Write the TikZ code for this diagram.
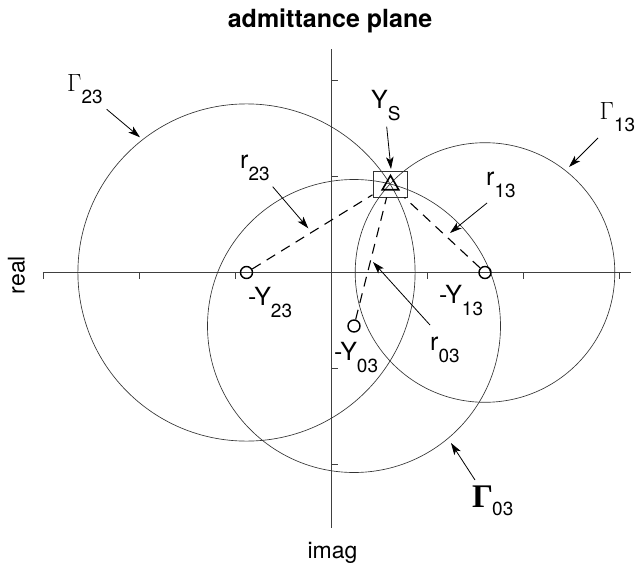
\documentclass[tikz,border=0pt]{standalone}
\usepackage{fontspec}
\setmainfont{TeX Gyre Heros}
\newfontfamily\timesfont{Liberation Serif}
\usetikzlibrary{arrows.meta,shapes.geometric}
\newcommand\mysub[1]{\raisebox{-12pt}{\fontsize{19}{19}\selectfont #1}}
\newcommand\mysubb[1]{\raisebox{-8pt}{\fontsize{19}{19}\selectfont #1}}
\begin{document}
\begin{tikzpicture}[x=1pt,y=-1pt,
  axis/.style={line width=1.1pt, black!75},
  tickmark/.style={line width=1pt, black!75},
  circ/.style={line width=0.65pt, black!80},
  marker/.style={circle, draw, line width=1.4pt, minimum size=12pt, inner sep=0pt},
  dashline/.style={dash pattern=on 10pt off 7pt, line width=1.1pt},
  pointer/.style={line width=0.8pt, -{Stealth[length=12pt,width=7.5pt,inset=3pt]}},
  lab/.style={anchor=base west, inner sep=0pt, font=\fontsize{25}{30}\selectfont},
]
\useasboundingbox (0,0) rectangle (641,565);

% axes
\coordinate (xl) at (42.5,272.5);
\coordinate (xr) at (631,272.5);
\coordinate (yt) at (331.5,49);
\coordinate (yb) at (331.5,528);
\draw[axis] (xl) -- (xr);
\draw[axis] (yt) -- (yb);
\foreach \x in {43,139.5,235.5,427.5,523.5,619.5} \draw[tickmark] (\x,272.5) -- ++(0,6);
\foreach \y in {80,176.5,368.5,464.5} \draw[tickmark] (331.5,\y) -- ++(6,0);

% circles
\draw[circ] (246.5,272.5) circle[radius=168.6pt];
\draw[circ] (485,272.5) circle[radius=129.8pt];
\draw[circ] (354,326) circle[radius=146.5pt];

% markers
\node[marker] (mY23) at (246.5,272.5) {};
\node[marker] (mY13) at (485,272.5) {};
\node[marker] (mY03) at (354,326) {};
\node[draw, black!80, line width=1pt, minimum width=34pt, minimum height=26pt, inner sep=0pt] (YS) at (390,184) {};
\node[regular polygon, regular polygon sides=3, draw, line width=1.6pt, minimum size=19pt, inner sep=0pt] (tri) at (390.5,185) {};

% radii
\draw[dashline] (mY23) -- (YS);
\draw[dashline] (mY13) -- (YS);
\draw[dashline] (mY03) -- (YS);

% labels
\node[anchor=base, inner sep=0pt, font=\bfseries\fontsize{25}{30}\selectfont] (title) at (330,27) {admittance plane};
\node[anchor=base, inner sep=0pt, font=\fontsize{23}{28}\selectfont] (imag) at (332.5,558) {imag};
\node[anchor=base, rotate=90, inner sep=0pt, font=\fontsize{23}{28}\selectfont] (real) at (24.5,275) {real};

\node[lab] (tG23) at (67,91.7) {\fontsize{24}{28}\selectfont$\Gamma$\mysub{23}};
\node[lab] (tG13) at (599.5,119.3) {\fontsize{24}{28}\selectfont$\Gamma$\mysub{13}};
\node[lab] (tYS) at (371,108.3) {Y\mysub{S}};
\node[lab] (tY23) at (248,305) {-Y\mysub{23}};
\node[lab] (tY13) at (439,303) {-Y\mysub{13}};
\node[lab] (tY03) at (334,360) {-Y\mysub{03}};
\node[lab] (tr23) at (240,168) {r\mysub{23}};
\node[lab] (tr13) at (486,185) {r\mysub{13}};
\node[lab] (tr03) at (430,350) {r\mysub{03}};
\node[lab] (tG03) at (472,507) {{\timesfont\bfseries\fontsize{33}{33}\selectfont Γ}\kern-1pt\mysubb{03}};

% pointer arrows
\coordinate (aG23s) at (106.7,109.3); \coordinate (aG23e) at (140,137.3);
\coordinate (ar23s) at (272.7,186.7); \coordinate (ar23e) at (308.3,228.3);
\coordinate (aYSs) at (386.7,126.7);  \coordinate (aYSe) at (391,169);
\coordinate (aG13s) at (598,138);     \coordinate (aG13e) at (569,167);
\coordinate (ar13s) at (487,203);     \coordinate (ar13e) at (450,233);
\coordinate (ar03s) at (430,325);     \coordinate (ar03e) at (373,262);
\coordinate (aG03s) at (475,480);     \coordinate (aG03e) at (451,443);
\draw[pointer] (aG23s) -- (aG23e);
\draw[pointer] (ar23s) -- (ar23e);
\draw[pointer] (aYSs) -- (aYSe);
\draw[pointer] (aG13s) -- (aG13e);
\draw[pointer] (ar13s) -- (ar13e);
\draw[pointer] (ar03s) -- (ar03e);
\draw[pointer] (aG03s) -- (aG03e);
\end{tikzpicture}
\end{document}
